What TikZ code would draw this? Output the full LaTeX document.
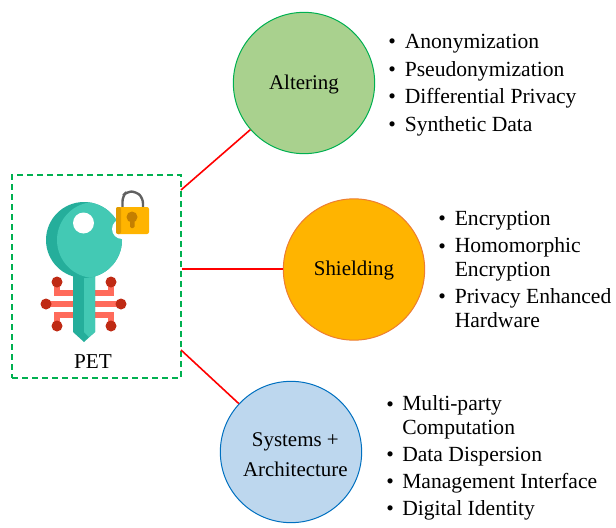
\documentclass[tikz,border=0pt]{standalone}
\usepackage{fontspec}
\setmainfont{Liberation Serif}
\definecolor{tealL}{HTML}{43C9B4}
\definecolor{tealD}{HTML}{25AE9B}
\definecolor{trace}{HTML}{FF6B5B}
\definecolor{dotc}{HTML}{BF2A14}
\definecolor{lockY}{HTML}{FFB400}
\definecolor{lockD}{HTML}{E09A00}
\definecolor{keyh}{HTML}{C47F00}
\definecolor{boxg}{HTML}{00B050}
\definecolor{altfill}{HTML}{A9D18E}
\definecolor{shiline}{HTML}{ED7D31}
\definecolor{sysline}{HTML}{0070C0}
\definecolor{sysfill}{HTML}{BDD7EE}
\tikzset{
  x=0.75pt,y=-0.75pt,
  topic/.style={circle,draw,line width=0.75pt,minimum size=106pt,inner sep=0pt,align=center,font=\fontsize{15.7pt}{22.5pt}\selectfont,text=black},
  item/.style={anchor=base west,inner sep=0pt,align=left,font=\fontsize{16.2pt}{18pt}\selectfont,text=black},
  bul/.style={anchor=base west,inner sep=0pt,font=\fontsize{16.2pt}{18pt}\selectfont,text=black},
  link/.style={red,line width=1.2pt},
  petbox/.style={draw=boxg,dashed,dash pattern=on 4.5pt off 3pt,line width=1pt,minimum width=126.75pt,minimum height=152.25pt,inner sep=0pt},
  tr/.style={trace,line width=4.2pt},
  cdot/.style={circle,fill=dotc,minimum size=8.25pt,inner sep=0pt},
}
\begin{document}
\begin{tikzpicture}
\useasboundingbox (0,0) rectangle (616,527);
\node[petbox] (pet) at (96.5,276.5) {};
\node[topic,draw=boxg,fill=altfill] (alt) at (304,83) {\raisebox{-4.7pt}[0pt][0pt]{Altering}};
\node[topic,draw=shiline,fill=lockY] (shi) at (354,269.5) {\raisebox{-4.7pt}[0pt][0pt]{Shielding}};
\node[topic,draw=sysline,fill=sysfill] (sys) at (291,452) {\hspace*{6.5pt}\raisebox{-18.7pt}[0pt][0pt]{\begin{tabular}[b]{@{}c@{}}Systems +\\Architecture\end{tabular}}};
\coordinate (a1) at (181,190);
\coordinate (a2) at (182,269);
\coordinate (a3) at (181,350);
\draw[link] (a1) -- (alt);
\draw[link] (a2) -- (a2 -| shi.west);
\draw[link] (a3) -- (sys);
% circuit traces
\draw[tr] (57,282) -- (57,293) -- (111,293) -- (111,282);
\draw[tr] (46,304) -- (121,304);
\draw[tr] (57,326) -- (57,315) -- (111,315) -- (111,326);
\foreach \p in {(57,282),(111,282),(46,304),(121,304),(57,326),(111,326)} \node[cdot] at \p {};
% key
\fill[tealD] (73,265) -- (95,265) -- (95,332) -- (84,342) -- (73,332) -- cycle;
\fill[tealL] (84,265) -- (95,265) -- (95,332) -- (89,337) -- (84,332) -- cycle;
\fill[tealD] (84,240) circle[radius=38];
\begin{scope}
\clip (84,240) circle[radius=38];
\fill[tealL] (95,240) circle[radius=38];
\end{scope}
\fill[white] (83.5,223) circle[radius=10.5];
\fill[white] (122,229) circle[radius=10];
% lock
\draw[line width=1.8pt,color=black!62,rounded corners=4pt] (122.5,208) -- (122.5,196) -- (127,191.5) -- (136,191.5) -- (143,198) -- (143,208);
\fill[lockY,rounded corners=1.5pt] (116,207) rectangle (149,234);
\fill[lockD,rounded corners=1.5pt] (116,207) rectangle (121,234);
\fill[keyh] (132,217) circle[radius=5.5];
\fill[keyh,rounded corners=1pt] (130,218) rectangle (134.5,228);
\node[inner sep=0pt,anchor=base,font=\fontsize{15.9pt}{18pt}\selectfont] (petlabel) at (93,368) {PET};
% lists
\node[bul] (b1) at (388,49) {•}; \node[item] (t1) at (404.5,49) {Anonymization};
\node[bul] (b2) at (388,77) {•}; \node[item] (t2) at (404.5,77) {Pseudonymization};
\node[bul] (b3) at (388,103.5) {•}; \node[item] (t3) at (404.5,103.5) {Differential Privacy};
\node[bul] (b4) at (388,131.5) {•}; \node[item] (t4) at (404.5,131.5) {Synthetic Data};
\node[bul] (b5) at (438,225) {•}; \node[item] (t5) at (454.5,225) {Encryption};
\node[bul] (b6) at (438,253) {•}; \node[item] (t6) at (454.5,276) {Homomorphic\\Encryption};
\node[bul] (b7) at (438,303) {•}; \node[item] (t7) at (454.5,327) {Privacy Enhanced\\Hardware};
\node[bul] (b8) at (386,411) {•}; \node[item] (t8) at (402,434) {Multi-party\\Computation};
\node[bul] (b9) at (386,461) {•}; \node[item] (t9) at (402,461) {Data Dispersion};
\node[bul] (b10) at (386,488) {•}; \node[item] (t10) at (402,488) {Management Interface};
\node[bul] (b11) at (386,515) {•}; \node[item] (t11) at (402,515) {Digital Identity};
\end{tikzpicture}
\end{document}
